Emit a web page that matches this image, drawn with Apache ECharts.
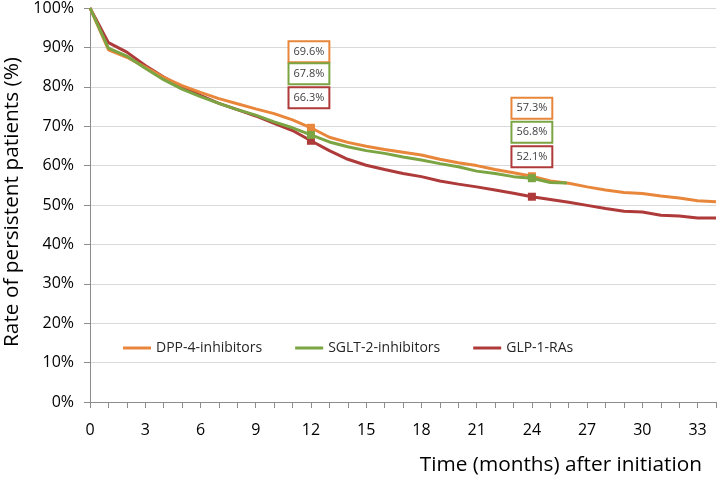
<!DOCTYPE html>
<html>
<head>
<meta charset="utf-8">
<script src="https://cdn.jsdelivr.net/npm/echarts@6/dist/echarts.min.js"></script>
<style>
html,body{margin:0;padding:0;background:#fff;}
#chart{width:718px;height:478px;}
</style>
</head>
<body>
<div id="chart"></div>
<script>
// ---- data ----
var seriesNames = ['DPP-4-inhibitors', 'SGLT-2-inhibitors', 'GLP-1-RAs'];
var monthsLong = [0,1,2,3,4,5,6,7,8,9,10,11,12,13,14,15,16,17,18,19,20,21,22,23,24,25,26,27,28,29,30,31,32,33,34];
var monthsSglt = [0,1,2,3,4,5,6,7,8,9,10,11,12,13,14,15,16,17,18,19,20,21,22,23,24,25,25.9];
var dppValues = [100,89.4,87.5,85.0,82.4,80.3,78.6,77.0,75.7,74.4,73.2,71.6,69.6,67.2,65.9,64.9,64.1,63.4,62.7,61.6,60.7,60.0,59.0,58.2,57.3,56.1,55.5,54.6,53.8,53.2,52.9,52.3,51.8,51.1,50.8];
var sgltValues = [100,89.8,87.8,84.7,81.8,79.4,77.5,75.8,74.2,72.8,71.1,69.6,67.8,66.0,64.8,63.8,63.1,62.2,61.4,60.5,59.7,58.6,58.0,57.2,56.8,55.7,55.6];
var glpValues = [100,91.2,88.8,85.4,82.5,80.0,77.8,75.8,74.2,72.6,70.7,68.9,66.3,63.8,61.6,60.1,59.0,58.0,57.2,56.1,55.3,54.6,53.8,53.0,52.1,51.4,50.7,49.9,49.1,48.4,48.2,47.4,47.2,46.7,46.7];
var labeledMonths = [12, 24];
var xTickLabels = [0,3,6,9,12,15,18,21,24,27,30,33];

// ---- styles ----
var colors = ['#E8873B', '#7BA443', '#AE3A3A'];
var labelOffsets = [ // per series, per labeled month: [dx, dy]
  {12: [-2, -76], 24: [0, -68]},
  {12: [-2, -61], 24: [0, -46]},
  {12: [-2, -43], 24: [0, -40]}
];
var FONT = '"Open Sans", "Noto Sans", sans-serif';

function buildData(months, values, sIdx) {
  return months.map(function (m, i) {
    if (labeledMonths.indexOf(m) >= 0) {
      return {
        value: [m, values[i]],
        symbol: 'rect',
        symbolSize: 8,
        label: {
          show: true,
          position: 'inside',
          offset: labelOffsets[sIdx][m],
          formatter: function (p) { return p.value[1].toFixed(1) + '%'; },
          color: '#404040',
          fontFamily: FONT,
          fontSize: 11,
          backgroundColor: '#fff',
          borderColor: colors[sIdx],
          borderWidth: 2,
          padding: [5, 4, 3, 4]
        }
      };
    }
    return { value: [m, values[i]] };
  });
}

var chart = echarts.init(document.getElementById('chart'), null, {renderer: 'canvas'});
var option = {
  animation: false,
  backgroundColor: '#fff',
  grid: {left: 90, right: 2, top: 8, bottom: 76, outerBoundsMode: 'none', containLabel: false},
  legend: {
    data: seriesNames,
    left: 118,
    top: 336,
    icon: 'rect',
    itemWidth: 28,
    itemHeight: 3,
    itemGap: 33,
    textStyle: {fontFamily: FONT, fontSize: 14, color: '#262626'}
  },
  xAxis: {
    type: 'value',
    min: 0,
    max: 34,
    interval: 1,
    name: 'Time (months) after initiation',
    nameLocation: 'end',
    nameGap: -14,
    nameMoveOverlap: false,
    nameTextStyle: {fontFamily: FONT, fontSize: 20.8, color: '#000', align: 'right', verticalAlign: 'top', padding: [53, 0, 0, 0]},
    axisLine: {show: true, lineStyle: {color: '#8C8C8C', width: 1}},
    axisTick: {show: true, length: 6, lineStyle: {color: '#8C8C8C'}},
    splitLine: {show: false},
    axisLabel: {
      margin: 20,
      fontFamily: FONT,
      fontSize: 16,
      color: '#000',
      formatter: function (v) { return xTickLabels.indexOf(v) >= 0 ? String(v) : ''; }
    }
  },
  yAxis: {
    type: 'value',
    min: 0,
    max: 100,
    interval: 10,
    name: 'Rate of persistent patients (%)',
    nameLocation: 'middle',
    nameGap: 67,
    nameMoveOverlap: false,
    nameTextStyle: {fontFamily: FONT, fontSize: 20.8, color: '#000', padding: [0, 0, 0, 6]},
    axisLine: {show: true, lineStyle: {color: '#8C8C8C', width: 1}},
    axisTick: {show: true, length: 6, lineStyle: {color: '#8C8C8C'}},
    splitLine: {show: true, lineStyle: {color: '#D9D9D9', width: 1}},
    axisLabel: {margin: 16, fontFamily: FONT, fontSize: 16, color: '#000', formatter: '{value}%'}
  },
  series: [
    {name: seriesNames[0], type: 'line', z: 3, symbol: 'none', color: colors[0],
     lineStyle: {width: 3, color: colors[0]}, itemStyle: {color: colors[0]},
     data: buildData(monthsLong, dppValues, 0)},
    {name: seriesNames[1], type: 'line', z: 4, symbol: 'none', color: colors[1],
     lineStyle: {width: 3, color: colors[1]}, itemStyle: {color: colors[1]},
     data: buildData(monthsSglt, sgltValues, 1)},
    {name: seriesNames[2], type: 'line', z: 2, symbol: 'none', color: colors[2],
     lineStyle: {width: 3, color: colors[2]}, itemStyle: {color: colors[2]},
     data: buildData(monthsLong, glpValues, 2)}
  ]
};
chart.setOption(option);
</script>
</body>
</html>
